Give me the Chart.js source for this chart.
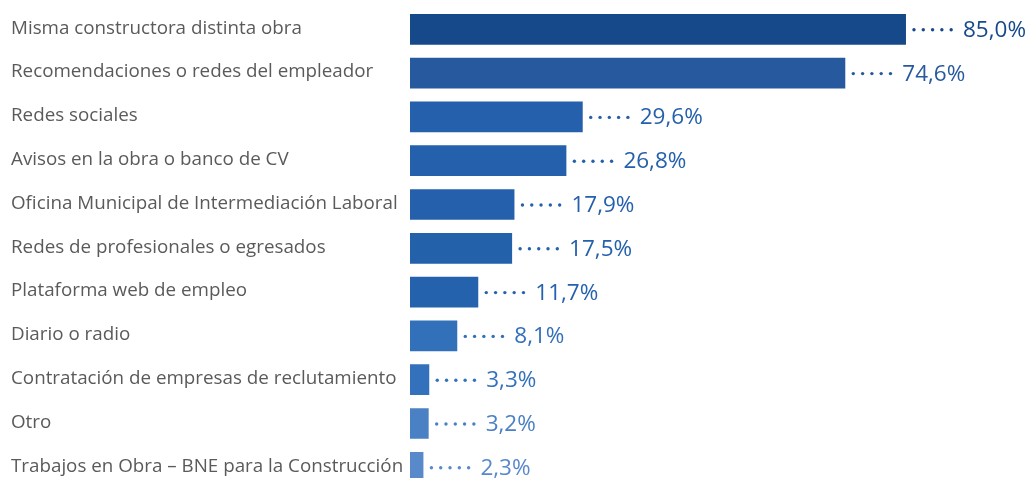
<!DOCTYPE html>
<html>
<head>
<meta charset="utf-8">
<script src="https://cdn.jsdelivr.net/npm/chart.js@4/dist/chart.umd.min.js"></script>
<style>
  html, body { margin: 0; padding: 0; background: #fff; overflow: hidden; }
  #wrap { position: relative; width: 1029px; height: 478px; overflow: hidden; }
  #bar-chart { position: absolute; left: 0; top: -20px; }
</style>
</head>
<body>
<div id="wrap"><canvas id="bar-chart" width="1029" height="530"></canvas></div>
<script>
var categories = [
  "Misma constructora distinta obra",
  "Recomendaciones o redes del empleador",
  "Redes sociales",
  "Avisos en la obra o banco de CV",
  "Oficina Municipal de Intermediación Laboral",
  "Redes de profesionales o egresados",
  "Plataforma web de empleo",
  "Diario o radio",
  "Contratación de empresas de reclutamiento",
  "Otro",
  "Trabajos en Obra – BNE para la Construcción"
];
var values = [85.0, 74.6, 29.6, 26.8, 17.9, 17.5, 11.7, 8.1, 3.3, 3.2, 2.3];
var barColors = ["#16498a", "#27599f", "#2460ab", "#2460ab", "#2460ab", "#2461ab",
                 "#2562ad", "#3270ba", "#3471bc", "#4a80c4", "#5889ca"];

// dotted leader + value text after each bar
var leaderLabels = {
  id: 'leaderLabels',
  afterDatasetsDraw: function(chart) {
    var ctx = chart.ctx;
    var meta = chart.getDatasetMeta(0);
    ctx.save();
    meta.data.forEach(function(bar, i) {
      var x = bar.x, y = bar.y;
      ctx.fillStyle = barColors[i];
      for (var d = 0; d < 5; d++) {
        ctx.beginPath();
        ctx.arc(x + 8 + d * 9.3, y + 0.5, 1.7, 0, Math.PI * 2);
        ctx.fill();
      }
      ctx.font = '22.5px "Open Sans"';
      ctx.textAlign = 'left';
      ctx.textBaseline = 'middle';
      ctx.fillText(values[i].toFixed(1).replace('.', ',') + '%', x + 57, y + 1);
    });
    ctx.restore();
  }
};

new Chart(document.getElementById("bar-chart"), {
  type: 'bar',
  data: {
    labels: categories,
    datasets: [{
      data: values,
      backgroundColor: barColors,
      barPercentage: 0.7,
      categoryPercentage: 1.0
    }]
  },
  plugins: [leaderLabels],
  options: {
    indexAxis: 'y',
    responsive: false,
    animation: false,
    layout: { padding: { left: 11, right: 35.5, top: 27.4, bottom: 20.8 } },
    plugins: {
      legend: { display: false },
      tooltip: { enabled: false }
    },
    scales: {
      x: { display: false, min: 0, max: 100 },
      y: {
        grid: { display: false },
        border: { display: false },
        afterFit: function(scale) { scale.width = 399; },
        ticks: {
          crossAlign: 'far',
          labelOffset: -1,
          color: '#5a5a5a',
          font: { family: '"Open Sans"', size: 18.8 }
        }
      }
    }
  }
});
</script>
</body>
</html>
